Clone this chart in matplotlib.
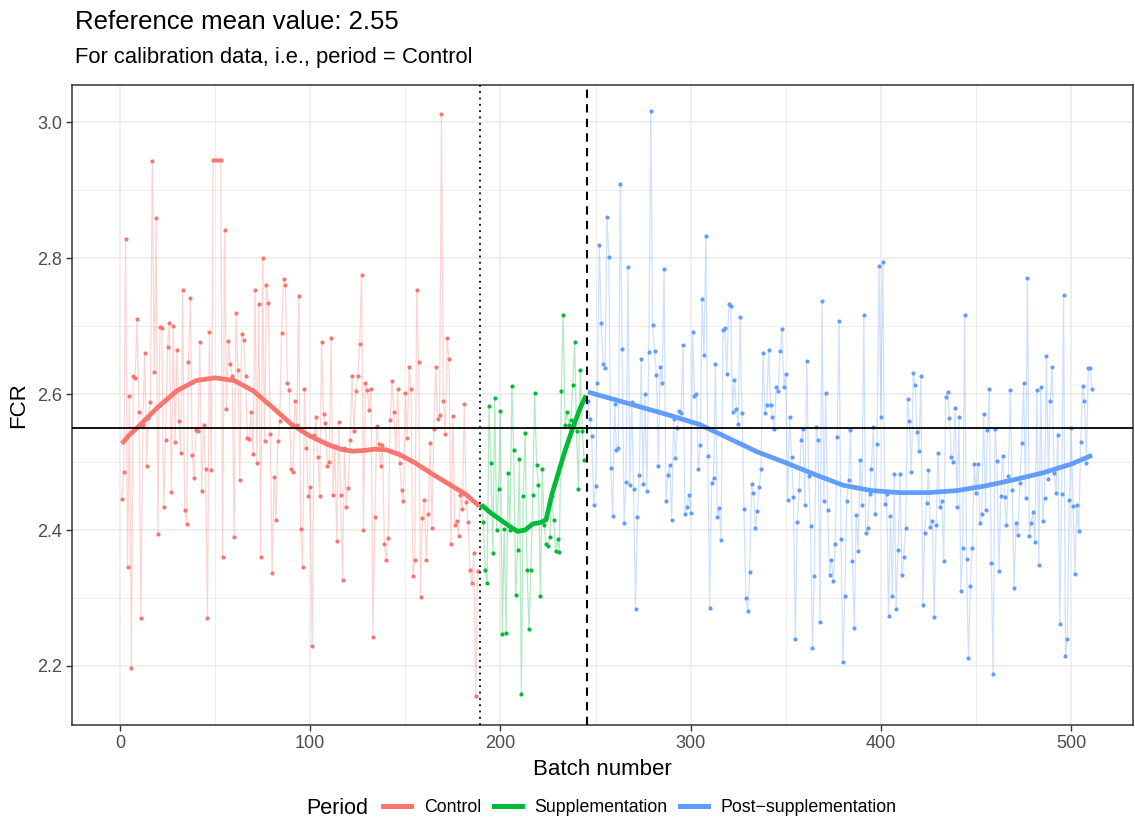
import numpy as np
import matplotlib
matplotlib.use("Agg")
import matplotlib.pyplot as plt
from matplotlib.lines import Line2D

plt.rcParams['font.family'] = ['Liberation Sans', 'DejaVu Sans']

# FCR per batch
control_fcr = [
    2.445, 2.485, 2.828, 2.345, 2.597, 2.197, 2.626, 2.624, 2.710, 2.574,
    2.270, 2.555, 2.661, 2.494, 2.565, 2.588, 2.943, 2.632, 2.859, 2.394,
    2.699, 2.698, 2.434, 2.533, 2.669, 2.704, 2.456, 2.700, 2.530, 2.665,
    2.560, 2.513, 2.753, 2.430, 2.409, 2.647, 2.741, 2.510, 2.476, 2.547,
    2.545, 2.676, 2.458, 2.555, 2.490, 2.271, 2.691, 2.488, 2.945, 2.945,
    2.945, 2.945, 2.945, 2.360, 2.842, 2.578, 2.678, 2.644, 2.627, 2.390,
    2.719, 2.636, 2.473, 2.689, 2.679, 2.626, 2.535, 2.534, 2.573, 2.512,
    2.753, 2.498, 2.733, 2.360, 2.800, 2.531, 2.760, 2.734, 2.542, 2.337,
    2.478, 2.414, 2.531, 2.560, 2.690, 2.769, 2.760, 2.617, 2.606, 2.490,
    2.486, 2.590, 2.555, 2.744, 2.402, 2.345, 2.608, 2.521, 2.450, 2.464,
    2.230, 2.540, 2.566, 2.508, 2.450, 2.676, 2.571, 2.558, 2.494, 2.500,
    2.682, 2.452, 2.524, 2.384, 2.559, 2.452, 2.327, 2.520, 2.434, 2.462,
    2.533, 2.626, 2.545, 2.605, 2.626, 2.674, 2.776, 2.400, 2.617, 2.606,
    2.577, 2.608, 2.243, 2.419, 2.553, 2.527, 2.494, 2.525, 2.379, 2.356,
    2.388, 2.562, 2.620, 2.573, 2.514, 2.607, 2.499, 2.459, 2.443, 2.602,
    2.535, 2.640, 2.608, 2.333, 2.356, 2.753, 2.648, 2.301, 2.417, 2.444,
    2.356, 2.423, 2.528, 2.403, 2.549, 2.640, 2.564, 2.569, 3.012, 2.590,
    2.542, 2.683, 2.652, 2.379, 2.568, 2.408, 2.413, 2.391, 2.451, 2.431,
    2.585, 2.441, 2.412, 2.341, 2.322, 2.366, 2.156, 2.340,
]
supp_fcr = [
    2.436, 2.412, 2.341, 2.322, 2.583, 2.498, 2.366, 2.594, 2.400, 2.460,
    2.575, 2.247, 2.401, 2.248, 2.484, 2.400, 2.612, 2.518, 2.305, 2.370,
    2.505, 2.158, 2.450, 2.543, 2.341, 2.254, 2.341, 2.452, 2.602, 2.496,
    2.466, 2.303, 2.490, 2.408, 2.380, 2.377, 2.390, 2.450, 2.415, 2.369,
    2.387, 2.368, 2.605, 2.717, 2.555, 2.573, 2.555, 2.562, 2.613, 2.677,
    2.545, 2.461, 2.635, 2.545, 2.503,
]
post_fcr = [
    2.590, 2.563, 2.538, 2.437, 2.465, 2.616, 2.819, 2.704, 2.645, 2.639,
    2.861, 2.802, 2.491, 2.420, 2.585, 2.518, 2.520, 2.910, 2.666, 2.410,
    2.471, 2.787, 2.466, 2.589, 2.461, 2.284,
    2.419, 2.481, 2.652, 2.467, 2.600, 2.458, 2.662, 3.017, 2.702, 2.663,
    2.628, 2.494, 2.640, 2.616, 2.784, 2.442, 2.481, 2.495, 2.415, 2.563,
    2.506, 2.550, 2.575, 2.572, 2.672, 2.424, 2.434, 2.452, 2.425, 2.692,
    2.597, 2.600, 2.490, 2.525, 2.740, 2.658, 2.833, 2.509, 2.285, 2.469,
    2.476, 2.645, 2.419, 2.433, 2.386, 2.695, 2.698, 2.630, 2.732, 2.729,
    2.574, 2.621, 2.578, 2.556, 2.713, 2.572, 2.431, 2.300, 2.281, 2.338,
    2.467, 2.454, 2.403, 2.428, 2.463, 2.490, 2.661, 2.572,
    2.584, 2.665, 2.584, 2.567, 2.549, 2.611, 2.604, 2.663, 2.696, 2.610,
    2.630, 2.444, 2.566, 2.508, 2.449, 2.240, 2.412, 2.459, 2.532, 2.548,
    2.437, 2.649, 2.480, 2.406, 2.226, 2.333, 2.552, 2.532, 2.265, 2.737,
    2.442, 2.602, 2.430, 2.334, 2.356, 2.325, 2.380, 2.537, 2.707, 2.387,
    2.206, 2.303, 2.442, 2.473, 2.547, 2.354, 2.256, 2.422, 2.369, 2.503,
    2.437, 2.717, 2.395, 2.403, 2.453, 2.490, 2.552, 2.424, 2.527, 2.788,
    2.567, 2.794, 2.439, 2.453, 2.274, 2.421, 2.303, 2.482,
    2.284, 2.371, 2.483, 2.334, 2.361, 2.403, 2.593, 2.560, 2.485, 2.631,
    2.613, 2.544, 2.516, 2.626, 2.289, 2.396, 2.440, 2.488, 2.405, 2.413,
    2.272, 2.408, 2.513, 2.434, 2.442, 2.354, 2.596, 2.603, 2.565, 2.507,
    2.500, 2.579, 2.434, 2.567, 2.310, 2.373, 2.716, 2.358, 2.212, 2.317,
    2.374, 2.497, 2.454, 2.497, 2.410, 2.424, 2.571, 2.430, 2.547, 2.608,
    2.351, 2.188, 2.549, 2.502, 2.339, 2.450, 2.509, 2.449, 2.408, 2.479,
    2.606, 2.459, 2.315, 2.411, 2.392, 2.469, 2.528, 2.616, 2.447,
    2.771, 2.391, 2.411, 2.426, 2.382, 2.606, 2.349, 2.610, 2.413, 2.447,
    2.656, 2.475, 2.590, 2.640, 2.484, 2.455, 2.540, 2.261, 2.453, 2.746,
    2.215, 2.240, 2.444, 2.550, 2.435, 2.335, 2.437, 2.398, 2.530, 2.612,
    2.590, 2.498, 2.638, 2.638, 2.608,
]
control_start, supp_start, post_start = 1, 190, 246

# smoothed trend (loess) per period
control_smooth_x = [1, 5, 10, 20, 30, 40, 50, 60, 70, 80, 90, 100, 110, 116,
                    122, 128, 134, 140, 147, 155, 165, 175, 182, 189]
control_smooth_y = [2.527, 2.540, 2.553, 2.581, 2.605, 2.620, 2.624, 2.620,
                    2.605, 2.581, 2.556, 2.538, 2.525, 2.519, 2.516, 2.517,
                    2.519, 2.518, 2.511, 2.499, 2.481, 2.464, 2.452, 2.435]
supp_smooth_x = [190, 195, 200, 205, 209, 213, 217, 221, 224, 227, 230, 234,
                 238, 242, 245]
supp_smooth_y = [2.437, 2.425, 2.415, 2.405, 2.398, 2.400, 2.409, 2.411,
                 2.415, 2.452, 2.480, 2.517, 2.550, 2.580, 2.598]
post_smooth_x = [246, 260, 275, 290, 305, 320, 335, 350, 365, 380, 395, 410,
                 425, 440, 455, 470, 485, 500, 511]
post_smooth_y = [2.603, 2.592, 2.580, 2.568, 2.555, 2.535, 2.515, 2.499,
                 2.482, 2.466, 2.458, 2.455, 2.455, 2.458, 2.465, 2.474,
                 2.484, 2.497, 2.510]

ref_mean = 2.55
supp_begin_line = 189.5
supp_end_line = 245.5

periods = ['Control', 'Supplementation', 'Post\u2212supplementation']
colors = ['#F8766D', '#00BA38', '#619CFF']

fig = plt.figure(figsize=(11.35, 8.18), dpi=100)
ax = fig.add_axes([72 / 1135, 93 / 818, 1061 / 1135, 640 / 818])

series = [
    (control_start, control_fcr, control_smooth_x, control_smooth_y),
    (supp_start, supp_fcr, supp_smooth_x, supp_smooth_y),
    (post_start, post_fcr, post_smooth_x, post_smooth_y),
]
for (start, vals, sx, sy), col in zip(series, colors):
    x = np.arange(start, start + len(vals))
    ax.plot(x, vals, color=col, alpha=0.3, lw=0.9, zorder=2)
    ax.plot(x, vals, 'o', color=col, ms=3.0, mew=0, zorder=3)
    ax.plot(sx, sy, color=col, lw=3.4, solid_capstyle='butt',
            solid_joinstyle='round', zorder=4)

ax.axhline(ref_mean, color='black', lw=1.3, zorder=5)
ax.axvline(supp_begin_line, color='black', lw=1.3, ls=(0, (1, 2.5)), zorder=5)
ax.axvline(supp_end_line, color='black', lw=1.5, ls=(0, (4, 3)), zorder=5)

ax.set_xlim(-25.2, 532.5)
ax.set_ylim(2.113, 3.055)
ax.set_xticks([0, 100, 200, 300, 400, 500])
ax.set_xticks([50, 150, 250, 350, 450], minor=True)
ax.set_yticks([2.2, 2.4, 2.6, 2.8, 3.0])
ax.set_yticks([2.3, 2.5, 2.7, 2.9], minor=True)
ax.set_yticklabels(['2.2', '2.4', '2.6', '2.8', '3.0'])
ax.grid(which='major', color='#EBEBEB', lw=1.1, zorder=0)
ax.grid(which='minor', color='#EBEBEB', lw=0.6, zorder=0)
ax.set_axisbelow(True)
ax.tick_params(which='major', length=4, width=1, color='#333333',
               labelsize=13, labelcolor='#4D4D4D', pad=3)
ax.tick_params(which='minor', length=0)
for sp in ax.spines.values():
    sp.set_color('#333333')
    sp.set_linewidth(1.1)

ax.set_xlabel('Batch number', fontsize=16, labelpad=5)
ax.set_ylabel('FCR', fontsize=16, labelpad=6)

fig.text(75 / 1135, 1 - 22 / 818, 'Reference mean value: 2.55', fontsize=18.5,
         va='center', ha='left')
fig.text(75 / 1135, 1 - 58 / 818, 'For calibration data, i.e., period = Control',
         fontsize=15.8, va='center', ha='left')

handles = [Line2D([], [], color=c, lw=3.6) for c in colors]
fig.text(306 / 1135, 1 - 808 / 818, 'Period', fontsize=15.5, va='center',
         ha='left')
fig.legend(handles, periods, loc='center left', ncol=3,
           bbox_to_anchor=(383 / 1135, 1 - 808 / 818), frameon=False,
           fontsize=12.8, handlelength=1.6, handletextpad=0.7,
           columnspacing=0.7, borderaxespad=0, borderpad=0)

fig.savefig('out.png', dpi=100)
